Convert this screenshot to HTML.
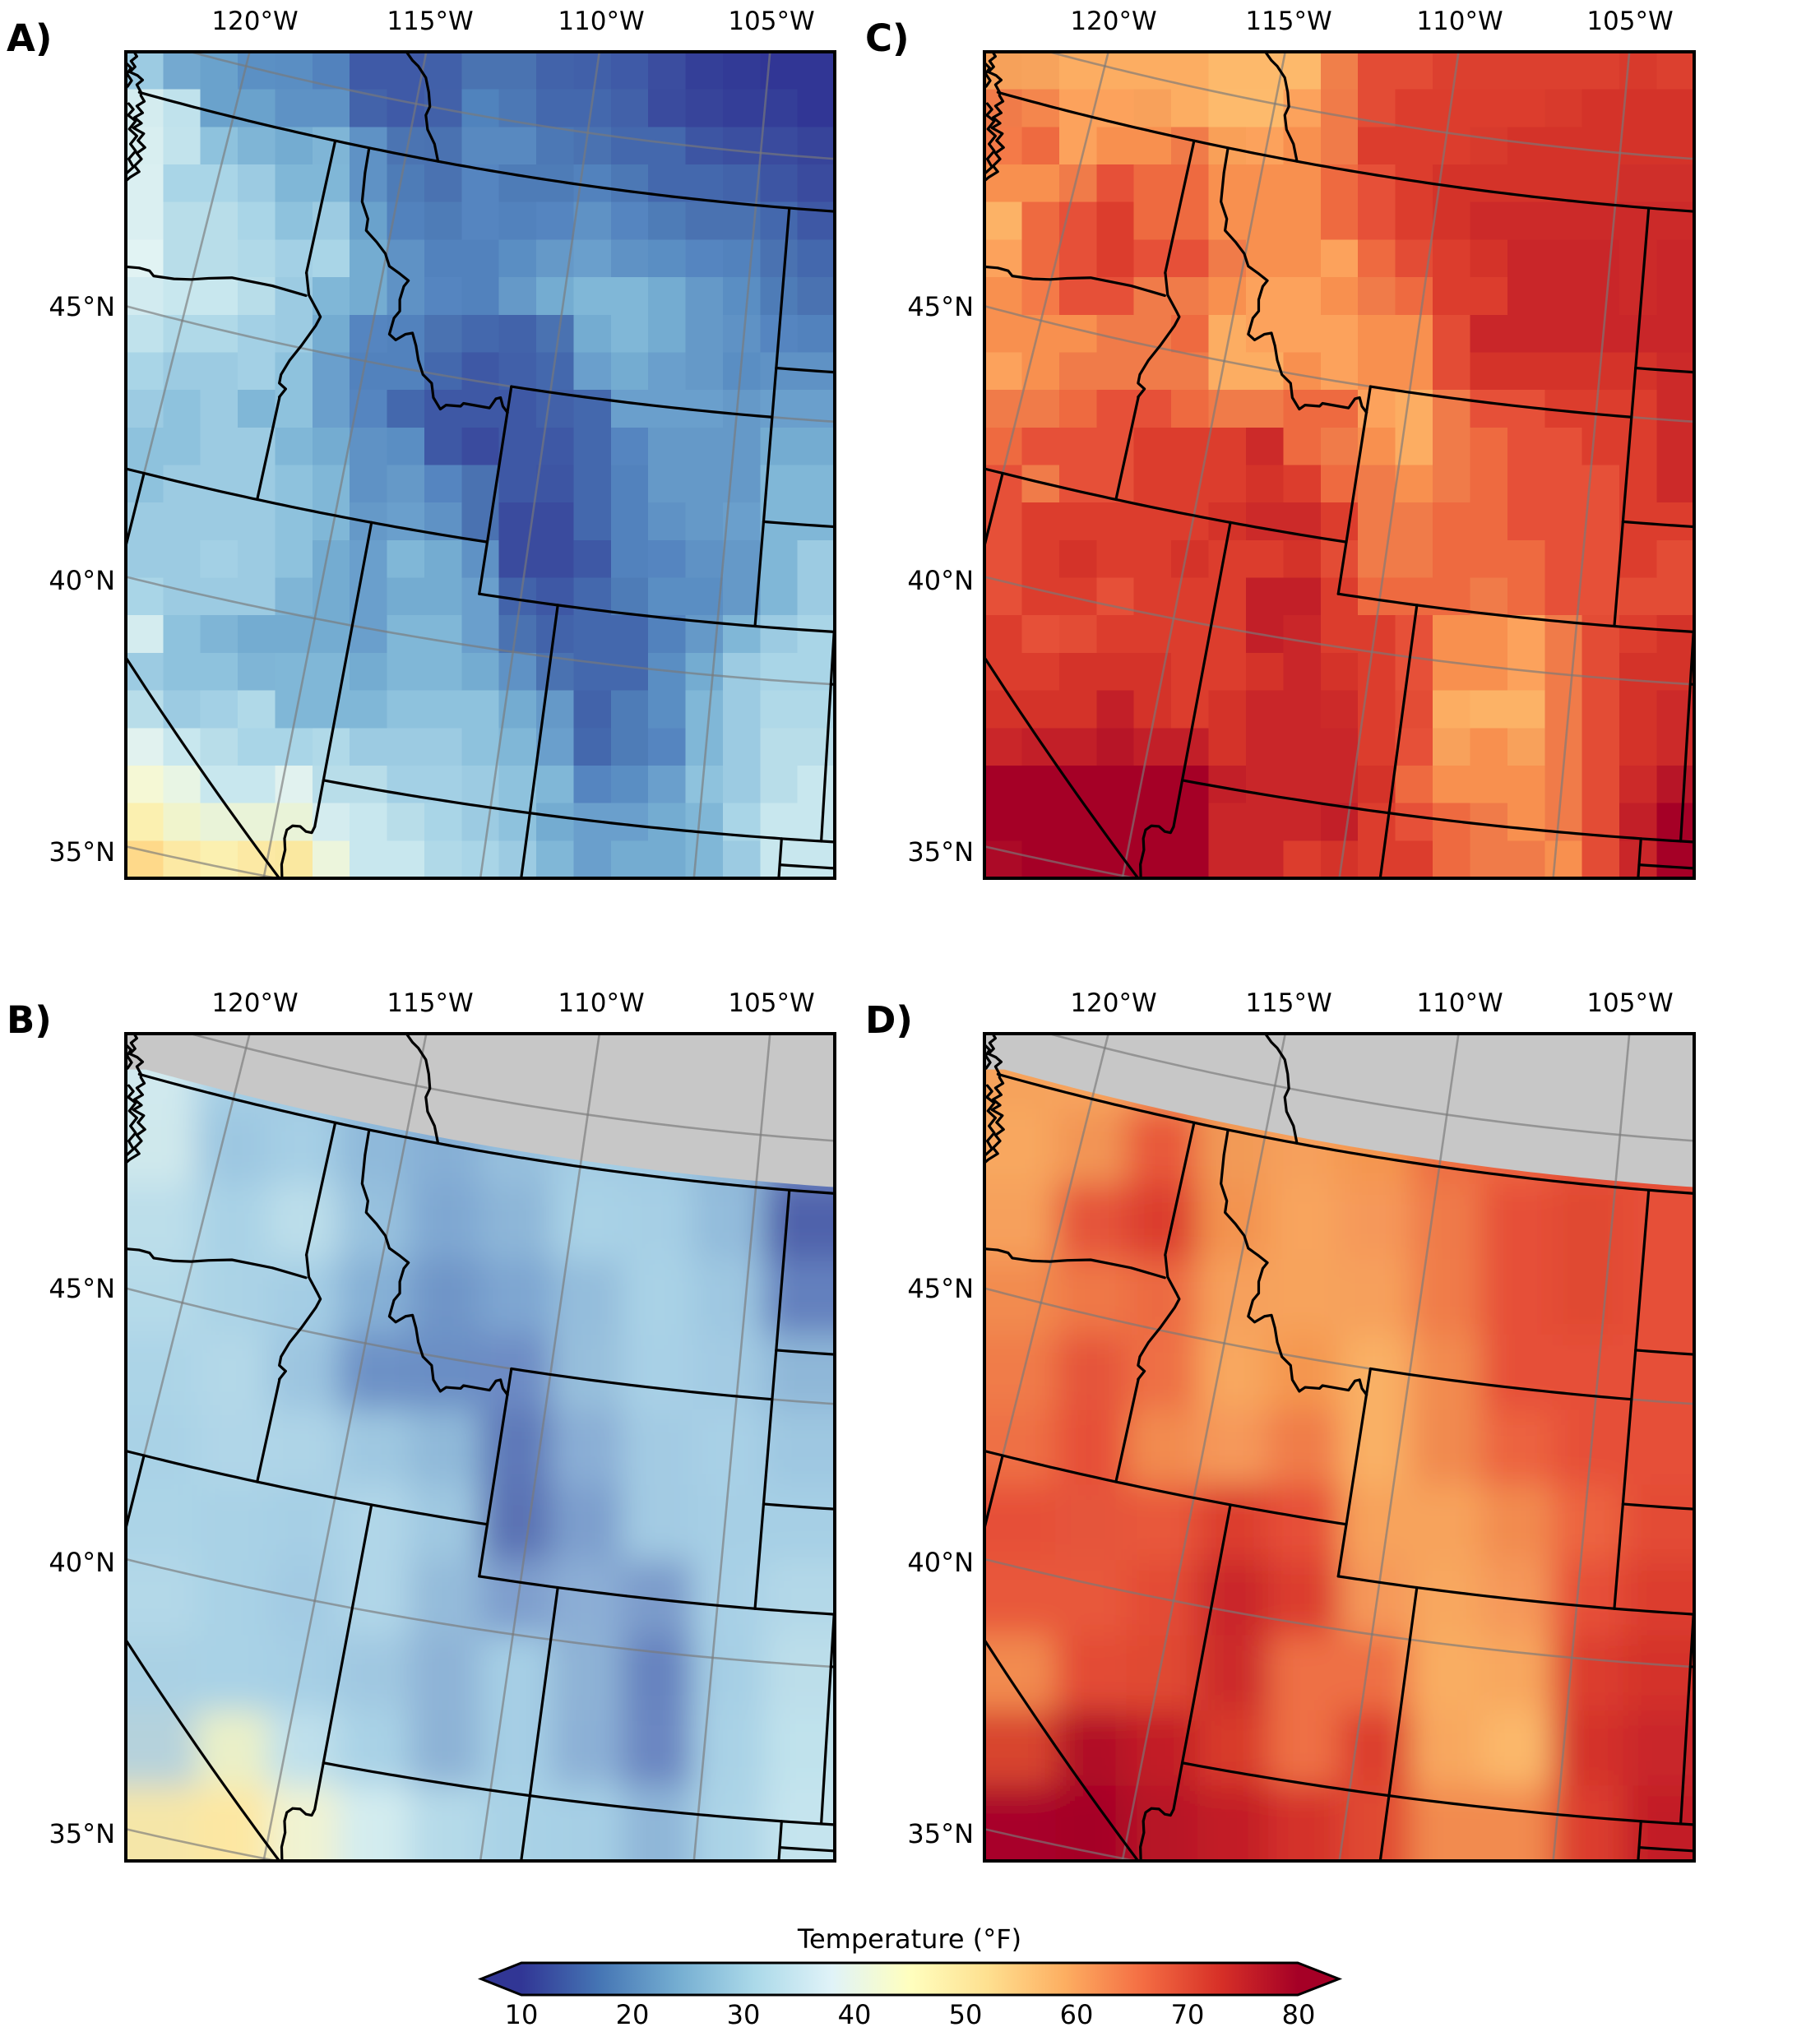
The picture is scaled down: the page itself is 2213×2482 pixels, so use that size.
<!DOCTYPE html>
<html>
<head>
<meta charset="utf-8">
<style>
html,body{margin:0;padding:0;background:#fff;width:2213px;height:2482px;overflow:hidden;}
body{position:relative;}
#maps{position:absolute;left:0;top:0;width:2213px;height:2482px;overflow:hidden;}
#maps svg{display:block;}
#labels{position:absolute;left:0;top:0;display:block;}
svg text{font-family:"DejaVu Sans","Liberation Sans",sans-serif;fill:#000;}
</style>
</head>
<body>
<div id="maps"></div>
<svg id="labels" xmlns="http://www.w3.org/2000/svg" width="2213" height="2482" viewBox="0 0 2213 2482">
  <defs>
    <linearGradient id="cbg" gradientUnits="userSpaceOnUse" x1="634" y1="0" x2="1578" y2="0">
      <stop offset="0" stop-color="#313695"/>
      <stop offset="0.1" stop-color="#4575b4"/>
      <stop offset="0.2" stop-color="#74add1"/>
      <stop offset="0.3" stop-color="#abd9e9"/>
      <stop offset="0.4" stop-color="#e0f3f8"/>
      <stop offset="0.5" stop-color="#ffffbf"/>
      <stop offset="0.6" stop-color="#fee090"/>
      <stop offset="0.7" stop-color="#fdae61"/>
      <stop offset="0.8" stop-color="#f46d43"/>
      <stop offset="0.9" stop-color="#d73027"/>
      <stop offset="1" stop-color="#a50026"/>
    </linearGradient>
  </defs>
  <text x="8" y="62" font-size="45" font-weight="bold">A)</text>
  <text x="1052" y="62" font-size="45" font-weight="bold">C)</text>
  <text x="8" y="1256" font-size="45" font-weight="bold">B)</text>
  <text x="1052" y="1256" font-size="45" font-weight="bold">D)</text>
  <g font-size="31" text-anchor="middle">
    <text x="310" y="36">120°W</text><text x="523" y="36">115°W</text><text x="731" y="36">110°W</text><text x="938" y="36">105°W</text>
    <text x="1354" y="36">120°W</text><text x="1567" y="36">115°W</text><text x="1775" y="36">110°W</text><text x="1982" y="36">105°W</text>
    <text x="310" y="1230">120°W</text><text x="523" y="1230">115°W</text><text x="731" y="1230">110°W</text><text x="938" y="1230">105°W</text>
    <text x="1354" y="1230">120°W</text><text x="1567" y="1230">115°W</text><text x="1775" y="1230">110°W</text><text x="1982" y="1230">105°W</text>
  </g>
  <g font-size="32" text-anchor="end">
    <text x="140" y="384">45°N</text><text x="140" y="717">40°N</text><text x="140" y="1047">35°N</text>
    <text x="1184" y="384">45°N</text><text x="1184" y="717">40°N</text><text x="1184" y="1047">35°N</text>
    <text x="140" y="1578">45°N</text><text x="140" y="1911">40°N</text><text x="140" y="2241">35°N</text>
    <text x="1184" y="1578">45°N</text><text x="1184" y="1911">40°N</text><text x="1184" y="2241">35°N</text>
  </g>
  <text x="1106" y="2369" font-size="32" text-anchor="middle">Temperature (°F)</text>
  <polygon points="585,2406.5 634,2387 634,2426" fill="#313695"/>
  <polygon points="1628,2406.5 1578,2387 1578,2426" fill="#a50026"/>
  <rect x="634" y="2387" width="944" height="39" fill="url(#cbg)"/>
  <polygon points="585,2406.5 634,2387 1578,2387 1628,2406.5 1578,2426 634,2426" fill="none" stroke="#000" stroke-width="3" stroke-linejoin="miter"/>
  <g font-size="32" text-anchor="middle">
    <text x="634" y="2461">10</text><text x="769" y="2461">20</text><text x="904" y="2461">30</text><text x="1039" y="2461">40</text>
    <text x="1174" y="2461">50</text><text x="1309" y="2461">60</text><text x="1444" y="2461">70</text><text x="1579" y="2461">80</text>
  </g>
</svg>
<script>
(function(){
function Z(s){return s.trim().split('\n').map(function(r){return r.trim().split(/\s+/).map(function(c){return '#'+c;});});}
var A=Z(`
9ccbe2 74a9d0 6aa2cc 5b90c4 5a8ec3 5282bd 3f5aa7 3f5aa7 4160a9 4a73b1 4a73b1 4263aa 4160a9 3f5aa7 3b4d9f 343f98 323a96 313695 313695
d4ecef c0e2ec 6aa2cc 6aa2cc 5e92c5 5e92c5 4363aa 3f5aa7 4261a9 5083bd 4c78b5 4468ad 4468ad 4261a9 3a4b9e 37449a 343e98 343e98 313695
d8eef0 c2e3ec 8ec2dd 7fb5d6 74acd1 7fb5d6 5f92c5 4b74b2 4a72b1 5889c0 5889c0 4c78b5 4a72b1 4468ad 4468ad 3d55a3 3b4fa0 3a4b9e 37449a
daeff1 a9d5e7 a9d5e7 9ccbe2 80b7d7 80b7d7 5f92c5 4e7cb7 4a72b1 5585c0 4e7cb7 4e7cb7 5282bd 4c78b5 4468ad 4468ad 4263aa 3d55a3 3a4b9e
daeff1 b8dde9 b8dde9 a9d5e7 8ec2dd 9ccbe2 6aa2cc 5282bd 4e7cb7 5585c0 5282bd 5585c0 5f92c5 5585c0 4e7cb7 4a72b1 4a72b1 4468ad 3e58a5
e1f3f3 b8dde9 b8dde9 b0d9e8 a3d0e5 a9d5e7 74acd1 5f92c5 5282bd 5282bd 5a8ec3 6599c8 6a9fcc 5f92c5 5a8ec3 5585c0 5282bd 4a72b1 4468ad
d2ebf0 c8e7ee c8e7ee b8dde9 9ccbe2 80b7d7 74acd1 5f92c5 5585c0 5282bd 6599c8 74acd1 80b7d7 80b7d7 74acd1 6599c8 5a8ec3 4e7cb7 4a72b1
c0e2ec b0d9e8 b0d9e8 a3d0e5 9ccbe2 74acd1 5585c0 5282bd 4a72b1 4468ad 4263aa 4a72b1 74acd1 80b7d7 74acd1 6599c8 5f92c5 5585c0 5282bd
a9d5e7 9ccbe2 9ccbe2 a3d0e5 8ec2dd 6a9fcc 5282bd 5282bd 4468ad 3e58a5 4160a9 4468ad 6a9fcc 74acd1 6a9fcc 6599c8 5a8ec3 5f92c5 5f92c5
9ccbe2 8ec2dd 9ccbe2 80b7d7 8ec2dd 6a9fcc 5585c0 4468ad 3e58a5 3e58a5 3e58a5 4261a9 4468ad 6a9fcc 6a9fcc 6a9fcc 6599c8 6a9fcc 6a9fcc
8ec2dd 8ec2dd 9ccbe2 9ccbe2 80b7d7 74acd1 5f92c5 5a8ec3 3e58a5 3a4b9e 3e58a5 3e58a5 4468ad 5585c0 6599c8 6599c8 6599c8 74acd1 74acd1
8ec2dd 9ccbe2 9ccbe2 9ccbe2 8ec2dd 80b7d7 5f92c5 6599c8 5585c0 4a72b1 3e58a5 3d55a3 4468ad 5282bd 6599c8 6599c8 6599c8 80b7d7 80b7d7
9ccbe2 9ccbe2 9ccbe2 9ccbe2 8ec2dd 80b7d7 6599c8 6a9fcc 5f92c5 4a72b1 3a4b9e 3a4b9e 4468ad 5282bd 5f92c5 6599c8 6a9fcc 80b7d7 80b7d7
9ccbe2 9ccbe2 a3d0e5 9ccbe2 8ec2dd 74acd1 6a9fcc 80b7d7 74acd1 5f92c5 3a4b9e 3a4b9e 3e58a5 5282bd 5585c0 5f92c5 6599c8 80b7d7 9ccbe2
a9d5e7 9ccbe2 9ccbe2 9ccbe2 7fb5d6 74acd1 6a9fcc 74acd1 74acd1 6a9fcc 4263aa 3e58a5 4468ad 4e7cb7 5a8ec3 5a8ec3 6599c8 80b7d7 9ccbe2
d4ecef 8ec2dd 7fb5d6 74acd1 74acd1 74acd1 6a9fcc 80b7d7 80b7d7 6a9fcc 4a72b1 4263aa 4468ad 4468ad 5282bd 6599c8 80b7d7 9ccbe2 a9d5e7
9ccbe2 8ec2dd 8ec2dd 7fb5d6 80b7d7 80b7d7 74acd1 80b7d7 80b7d7 74acd1 5f92c5 4a72b1 4468ad 4468ad 5a8ec3 74acd1 9ccbe2 a9d5e7 a9d5e7
b8dde9 9ccbe2 a3d0e5 b0d9e8 80b7d7 80b7d7 80b7d7 8ec2dd 8ec2dd 8ec2dd 74acd1 6599c8 4263aa 4e7cb7 5a8ec3 80b7d7 9ccbe2 b0d9e8 b0d9e8
e1f2ef c8e7ee b8dde9 a9d5e7 a9d5e7 b0d9e8 9ccbe2 9ccbe2 9ccbe2 8ec2dd 80b7d7 6a9fcc 4468ad 4e7cb7 5585c0 80b7d7 9ccbe2 b8dde9 b8dde9
f5f8d5 e8f5e4 c8e7ee c8e7ee e1f2ef b8dde9 b8dde9 a3d0e5 a3d0e5 9ccbe2 8ec2dd 80b7d7 5585c0 5a8ec3 6a9fcc 8ec2dd 9ccbe2 b8dde9 c8e7ee
fbf0b0 f0f4cc e9f3d8 e9f3d8 e9f3d8 d4ecef c8e7ee b8dde9 a9d5e7 9ccbe2 8ec2dd 74acd1 6a9fcc 6a9fcc 74acd1 80b7d7 a9d5e7 c8e7ee c8e7ee
fed98a fce9a4 fbf0b0 fce9a4 fae8a0 ecf5dc c8e7ee c8e7ee b0d9e8 a9d5e7 9ccbe2 80b7d7 6a9fcc 74acd1 74acd1 80b7d7 9ccbe2 c8e7ee c8e7ee
`);
var C=Z(`
f6a15a f7a35c fcad62 fcad62 fcad62 fcad62 fdb96b fdb96b fdb96b f07f4a e34c35 e34c35 dc402f dc402f dc402f dc402f dc402f d83a2c dc402f
f07b49 f4864d fca25c fca25c f8a15b fcad62 fdba6c fdba6c fca25c f07b49 e34c35 dc3d2d dc3d2d dc3d2d dc3d2d d83a2c d43329 d43329 d43329
f47a48 ee6a40 fca25c f8904f f8904f f07b49 f9a058 fca25c f8904f f07b49 dc3d2d dc3d2d dc3d2d d83a2c d43329 d43329 d43329 d43329 d43329
f8904f f8904f f07b49 e65038 ee6a40 ee6a40 f8904f f8904f f8904f ee6a40 e65038 dc3d2d d43329 d43329 d43329 d43329 d43329 cf2f2a cf2f2a
fcb266 ee6a40 e65038 dc3d2d ee6a40 ee6a40 f8904f f8904f f8904f ee6a40 e65038 dc3d2d d43329 cc2a29 cc2a29 cc2a29 cc2a29 cc2a29 cc2a29
fca25c ee6a40 e65038 dc3d2d e65038 e65038 f07b49 f8904f f8904f fca25c ee6a40 e34c35 dc3d2d d43329 c92629 c92629 c92629 cc2a29 c92629
f8904f f47a48 e65038 e65038 f07b49 f07b49 f8904f fca25c fca25c f8904f f07b49 ee6a40 dc3d2d dc3d2d c92629 c92629 c92629 cc2a29 c92629
f8904f f8904f f8904f f07b49 f07b49 ee6a40 fcad62 fca25c fca25c fca25c f8904f f8904f e34c35 c92629 c92629 c92629 c92629 c92629 c92629
fca25c f8904f f07b49 f07b49 f07b49 f07b49 fcad62 fcad62 f8904f fca25c f8904f f8904f e34c35 d43329 d43329 d43329 d43329 d43329 cc2a29
f07b49 f07b49 ee6a40 e65038 e65038 ee6a40 f07b49 f07b49 ee6a40 ee6a40 fca25c fcad62 f07b49 e65038 e65038 dc3d2d dc3d2d dc3d2d cc2a29
ee6a40 e65038 e65038 e65038 dc3d2d dc3d2d dc3d2d cc2a29 ee6a40 f07b49 f8904f fcad62 f07b49 ee6a40 e65038 e65038 dc3d2d dc3d2d cc2a29
e65038 f07b49 e65038 e65038 dc3d2d dc3d2d dc3d2d d43329 dc3d2d ee6a40 f07b49 f8904f f07b49 ee6a40 e65038 e65038 e65038 dc3d2d cc2a29
e65038 dc3d2d dc3d2d dc3d2d dc3d2d dc3d2d d43329 cc2a29 cc2a29 dc3d2d f07b49 f07b49 ee6a40 ee6a40 e65038 e65038 e65038 dc3d2d dc3d2d
e65038 dc3d2d d43329 dc3d2d dc3d2d d43329 dc3d2d dc3d2d d43329 e34c35 f07b49 f07b49 ee6a40 ee6a40 ee6a40 e65038 e65038 dc3d2d e34c35
e65038 dc3d2d dc3d2d e65038 dc3d2d dc3d2d dc3d2d c21f28 c21f28 dc3d2d ee6a40 ee6a40 ee6a40 f07b49 ee6a40 e65038 e65038 e34c35 e34c35
dc3d2d e65038 e34c35 dc3d2d dc3d2d dc3d2d dc3d2d c21f28 c92629 dc3d2d dc3d2d e65038 f8904f f8904f fca25c f07b49 e34c35 dc3d2d d43329
dc3d2d dc3d2d d43329 d43329 d43329 dc3d2d dc3d2d d43329 c92629 d43329 dc3d2d e65038 f8904f f8904f fca25c f07b49 e34c35 d43329 d43329
d43329 d43329 d43329 c21f28 d43329 dc3d2d d43329 c92629 c92629 cc2a29 dc3d2d e34c35 fcad62 fcb266 fcb266 f07b49 e34c35 d43329 cc2a29
c92629 c21f28 c21f28 b71527 c21f28 c21f28 d43329 c92629 c92629 c92629 dc3d2d e65038 f8a15b f8904f f8a15b f07b49 e34c35 d43329 cc2a29
a50026 a50026 a50026 a50026 a50026 a50026 c21f28 c92629 c92629 c92629 d43329 ee6a40 f8904f f8904f f8904f f07b49 e34c35 cc2a29 b71527
a50026 a50026 a50026 a50026 a50026 a50026 c92629 c92629 c92629 c21f28 dc3d2d e65038 ee6a40 f07b49 f8904f f07b49 e34c35 c21f28 a50026
ac0a27 a50026 a50026 a50026 a50026 a50026 c92629 c92629 dc3d2d d43329 dc3d2d dc3d2d ee6a40 f07b49 f07b49 f8904f e34c35 c92629 a50026
`);
var B=Z(`
d0e9ee a6cfe5 a0c8e1 8fb9da 86afd5 96bfdd a4cde4 a2cbe3 8fb7d8 6f88c2
cfe8ec 9dc7e1 a6cfe5 8fb9da 86afd5 96bfdd a4cde4 a2cbe3 8fb7d8 6f88c2
bcdeea a9d2e6 bcdeea 97c1de 7fa7d2 8db6d8 a9d2e6 a6cfe5 93bcdb 4f62ab
b5dae9 abd3e6 a4cde4 86b0d6 6f95c8 7ea6d1 94bddc a9d2e6 9ec7e1 6480be
acd4e7 b3d8e8 9cc5e0 6d91c6 6a8ec5 6d8bc4 97bfdc a8d0e6 a3cbe3 8fb7d8
a9d2e6 b0d6e8 aed4e7 9fc8e1 90b9d9 5d78b8 8aaed5 a3cbe3 a8d0e6 9ec7e1
acd4e7 a9d2e6 a6cfe5 b0d6e8 9fc8e1 5a72b4 7d9fcd a3cbe3 a6cfe5 a6cfe5
b3d8e8 a9d2e6 a3cbe3 b0d6e8 94bbda 7f9fcd 8caed5 7b9bcb a8d0e6 b3d8e8
aad1e4 a9d2e6 a6cfe5 a0c8e1 8eb3d7 a6cfe5 8eb2d6 6683bf a6cfe5 bcdeea
b5d2dc eaf0c8 bfe0eb a9d2e6 8db2d6 a6cfe5 8cb0d6 6a86c1 a9d2e6 c0e2ec
f5e6a8 fde7a2 f0f3d2 d3ecef b5dae9 a9d2e6 a6cfe5 8fb6d8 acd4e7 c5e4ee
`);
var D=Z(`
f6a35c f7a55e f5985a f29a57 f6a05b f4964f ee6e43 ec6340 e65038 e65038
f8a75e f29454 e8583b f29a57 f6a05b f4964f ee6e43 ec6340 e65038 e65038
f6a05b e5553a dc3d2d f3934f f8a45d f5985a ef7a48 e65038 e04a33 e65038
f28b50 ef7847 ec6a42 f6a05b f7a35c f6a05b f07b49 e65038 e04a33 e65038
f07b49 e5553a ee7045 f8a75e f4964f f9b065 f28b50 e65038 e65038 e65038
ee7045 e65038 f28b50 f5985a f07b49 f9b065 f18a4f ec6340 e65038 e65038
e65038 e5553a e8583b dc3d2d e65038 f7a35c f7a35c f28b50 ec6340 e34c35
e8583b e8583b e34c35 c92629 dc3d2d f5985a f8a75e f5985a e65038 dc3d2d
f28b50 e34c35 e04a33 cc2a29 ee7045 ee7045 f9ad62 f8a75e dc3d2d d43329
d8452f b01027 c21f28 d83a2c ee7045 dc3d2d f8a75e fbb86a d43329 c92629
a8042a a50026 b71527 c21f28 d43329 e04a33 f28b50 f28b50 dc3d2d c21f28
`);

var AX=1850, AY=-5600, R=Math.PI/180;
function P(lon,lat){var t=0.585*(lon+96.06)*R, r=6345-91*(lat-45);return [AX+r*Math.sin(t), AY+r*Math.cos(t)];}
function par(lat,a,b){var n=Math.max(2,Math.ceil(Math.abs(b-a)/0.2)),o=[];for(var i=0;i<=n;i++)o.push(P(a+(b-a)*i/n,lat));return o;}
function mer(lon,a,b){return [P(lon,a),P(lon,b)];}
function seg(l0,a0,l1,a1,n){var o=[];for(var i=0;i<=n;i++)o.push(P(l0+(l1-l0)*i/n,a0+(a1-a0)*i/n));return o;}
function raw(a){var o=[];for(var i=0;i<a.length;i+=2)o.push([a[i],a[i+1]]);return o;}
function ps(p){return p.map(function(q){return q[0].toFixed(1)+','+q[1].toFixed(1);}).join(' ');}

var states=[
 par(49,-122.75,-101),
 mer(-117.04,49,46.42),
 par(45,-111.05,-104.05),
 mer(-104.05,49,41),
 par(45.94,-104.05,-101),
 par(43,-104.05,-101),
 par(41,-111.05,-102.05),
 mer(-102.05,41,37),
 par(40,-102.05,-101),
 par(37,-114.05,-101),
 mer(-109.05,41,34.5),
 mer(-111.05,45,41),
 par(42,-121.5,-111.05),
 mer(-114.05,42,36.1),
 mer(-117.03,44.0,42),
 mer(-120,42,39),
 seg(-120,39,-114.63,35,24),
 mer(-103,37,34.5),
 par(36.5,-103,-101),
 raw([529,474,533,512,548,540,553,550,545,565,520,600,500,625,485,650,482,665,493,675,482,689]),
 raw([210,462,218,463,240,465,258,470,265,479,300,484,330,485,360,483,400,482,430,488,470,496,528,513]),
 raw([637,257,630,300,625,350,635,380,632,400,650,420,665,440,672,462,690,475,705,487,697,497,690,520,690,540,680,552,672,580,683,590,700,580,712,578,718,600,722,625,730,650,745,665,748,690,760,710,770,703,795,705,800,700,845,708,856,692,864,690,868,705,876,716]),
 raw([700,88,712,105,722,115,735,135,740,160,742,185,735,200,738,225,750,250,756,280]),
 raw([543,1435,538,1445,528,1443,518,1434,505,1433,495,1440,491,1455,492,1475,486,1500,487,1535])
];
var coast=[
 raw([230,88,236,98,226,106,233,116,224,125,237,131,246,139,236,147,243,160,243,166,249,176,236,184,246,196,232,204,244,214,230,222,248,232,238,244,250,256,236,266,244,276,232,288,240,298,224,308,217,314]),
 raw([222,180,230,190,221,200,234,210,223,224,236,236,225,250,234,262,222,276,230,290,219,300]),
 raw([218,110,226,118,219,128,227,140,220,150])
];
var grid=[mer(-120,40,52.5),mer(-115,34.5,52.5),mer(-110,34.5,52.5),mer(-105,34.5,52.5),par(35,-120,-99),par(40,-121.5,-99),par(45,-123,-99),par(50,-124.5,-99)];

var grayPts=[[200,80],[1460,80]].concat(par(49.12,-101,-122.6)).concat([[200,152]]);

function lines(list,color,op,w){
  var s='';
  list.forEach(function(p){s+='<polyline points="'+ps(p)+'" fill="none" stroke="'+color+'" stroke-opacity="'+op+'" stroke-width="'+w+'" vector-effect="non-scaling-stroke" stroke-linejoin="round" stroke-linecap="round"/>';});
  return s;
}

function panel(x,y,w,h,type,data,id){
  var s='<svg x="'+x+'" y="'+y+'" width="'+w+'" height="'+h+'" viewBox="217 90 1224 1434" preserveAspectRatio="none" overflow="hidden">';
  var nr=data.length,nc=data[0].length,cw=1224/nc,rh=1434/nr,j,k;
  if(type==='c'){
    s+='<g shape-rendering="crispEdges">';
    for(j=0;j<nr;j++)for(k=0;k<nc;k++){
      var ww=Math.min(cw+0.9,1441-(217+k*cw)), hh=Math.min(rh+0.9,1524-(90+j*rh));
      s+='<rect x="'+(217+k*cw).toFixed(2)+'" y="'+(90+j*rh).toFixed(2)+'" width="'+ww.toFixed(2)+'" height="'+hh.toFixed(2)+'" fill="'+data[j][k]+'"/>';
    }
    s+='</g>';
  } else {
    s+='<defs><filter id="bl'+id+'" filterUnits="userSpaceOnUse" x="100" y="-30" width="1460" height="1670"><feGaussianBlur stdDeviation="28"/></filter></defs>';
    s+='<g filter="url(#bl'+id+')" shape-rendering="crispEdges">';
    for(j=0;j<nr;j++)for(k=0;k<nc;k++){
      var x0=217+k*cw, x1=x0+cw+0.9, y0=90+j*rh, y1=y0+rh+0.9;
      if(k===0)x0-=90; if(k===nc-1)x1=1441+90; if(j===0)y0-=90; if(j===nr-1)y1=1524+90;
      s+='<rect x="'+x0.toFixed(2)+'" y="'+y0.toFixed(2)+'" width="'+(x1-x0).toFixed(2)+'" height="'+(y1-y0).toFixed(2)+'" fill="'+data[j][k]+'"/>';
    }
    s+='</g>';
    s+='<polygon points="'+ps(grayPts)+'" fill="#c7c7c7"/>';
  }
  s+=lines(grid,'#7a7a7a',0.65,2.6);
  s+=lines(states,'#000',1,3.2);
  s+=lines(coast,'#000',1,3.2);
  s+='</svg>';
  s+='<rect x="'+x+'" y="'+y+'" width="'+w+'" height="'+h+'" fill="none" stroke="#000" stroke-width="4"/>';
  return s;
}

var out='<svg xmlns="http://www.w3.org/2000/svg" width="2213" height="2482" viewBox="0 0 2213 2482" style="display:block">';
out+=panel(153,63,862,1005,'c',A,'a');
out+=panel(1197,63,863,1005,'c',C,'c');
out+=panel(153,1257,862,1006,'f',B,'b');
out+=panel(1197,1257,863,1006,'f',D,'d');
out+='</svg>';
document.getElementById('maps').innerHTML=out;
})();
</script>
</body>
</html>
